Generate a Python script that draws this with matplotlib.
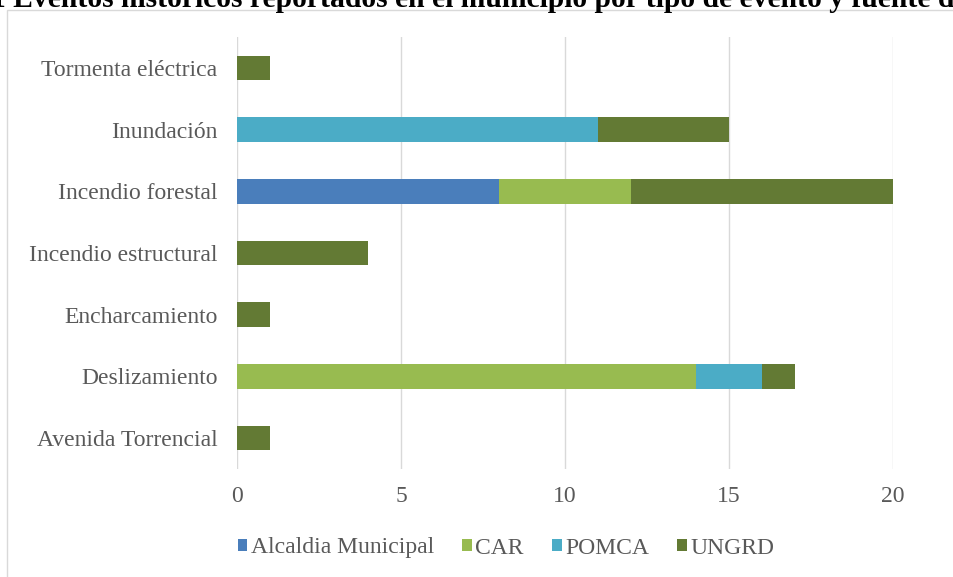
import numpy as np
import matplotlib
matplotlib.use("Agg")
import matplotlib.pyplot as plt
from matplotlib.patches import Rectangle

plt.rcParams['font.family'] = ['Liberation Serif', 'DejaVu Serif']

# data
categorias = ["Avenida Torrencial", "Deslizamiento", "Encharcamiento",
              "Incendio estructural", "Incendio forestal", "Inundación",
              "Tormenta eléctrica"]
alcaldia = [0, 0, 0, 0, 8, 0, 0]
car = [0, 14, 0, 0, 4, 0, 0]
pomca = [0, 2, 0, 0, 0, 11, 0]
ungrd = [1, 1, 1, 4, 8, 4, 1]
fuentes = ["Alcaldia Municipal", "CAR", "POMCA", "UNGRD"]
colores = ["#4a7ebb", "#98bb50", "#4bacc6", "#637a34"]
xticks = [0, 5, 10, 15, 20]

titulo = "1 Eventos históricos reportados en el municipio por tipo de evento y fuente de información"
visible = "1 Eventos históricos reportados en el municipio por tipo de evento y fuente d"

fig = plt.figure(figsize=(9.54, 5.77), dpi=100)

# outer chart frame
fig.patches.append(Rectangle((7/954, -0.01), 1.0, 1 - 10/577 + 0.01,
                             transform=fig.transFigure, fill=False,
                             edgecolor="#d9d9d9", linewidth=1.0))

# title cut off at the top and right, as in the source:
# size it so the part up to "fuente d" reaches the right edge
renderer = fig.canvas.get_renderer()
probe = fig.text(0, 0, visible, fontsize=20, fontweight="bold")
w = probe.get_window_extent(renderer).width
probe.remove()
tsize = 20 * (954 + 9 + 3) / w
fig.text(-9/954, 1 - 7/577, titulo,
         fontsize=tsize, fontweight="bold", color="black", va="baseline", ha="left")

ax = fig.add_axes([237/954, 1 - 469/577, (893-237)/954, (469-37)/577])

y = np.arange(len(categorias))
left = np.zeros(len(categorias))
for vals, nombre, col in zip([alcaldia, car, pomca, ungrd], fuentes, colores):
    ax.barh(y, vals, left=left, height=0.4, color=col, label=nombre, zorder=3)
    left = left + np.array(vals)

ax.set_xlim(0, 20)
ax.set_ylim(-0.5, len(categorias) - 0.5)
ax.set_xticks(xticks)
ax.set_yticks(y)
ax.set_yticklabels(categorias)
ax.xaxis.grid(True, color="#d9d9d9", linewidth=1.0, zorder=0)
for s in ax.spines.values():
    s.set_visible(False)
ax.tick_params(axis="both", length=0, labelsize=17, labelcolor="#595959")
ax.tick_params(axis="x", pad=12)
ax.tick_params(axis="y", pad=14)

ax.legend(loc="center", ncol=4, frameon=False, fontsize=17,
          handlelength=0.4, handleheight=0.4, handletextpad=0.15,
          columnspacing=1.2, labelcolor="#595959")
leg = ax.get_legend()
leg.set_bbox_to_anchor((506/954, 1 - 548/577), transform=fig.transFigure)

fig.savefig("out.png", dpi=100)
